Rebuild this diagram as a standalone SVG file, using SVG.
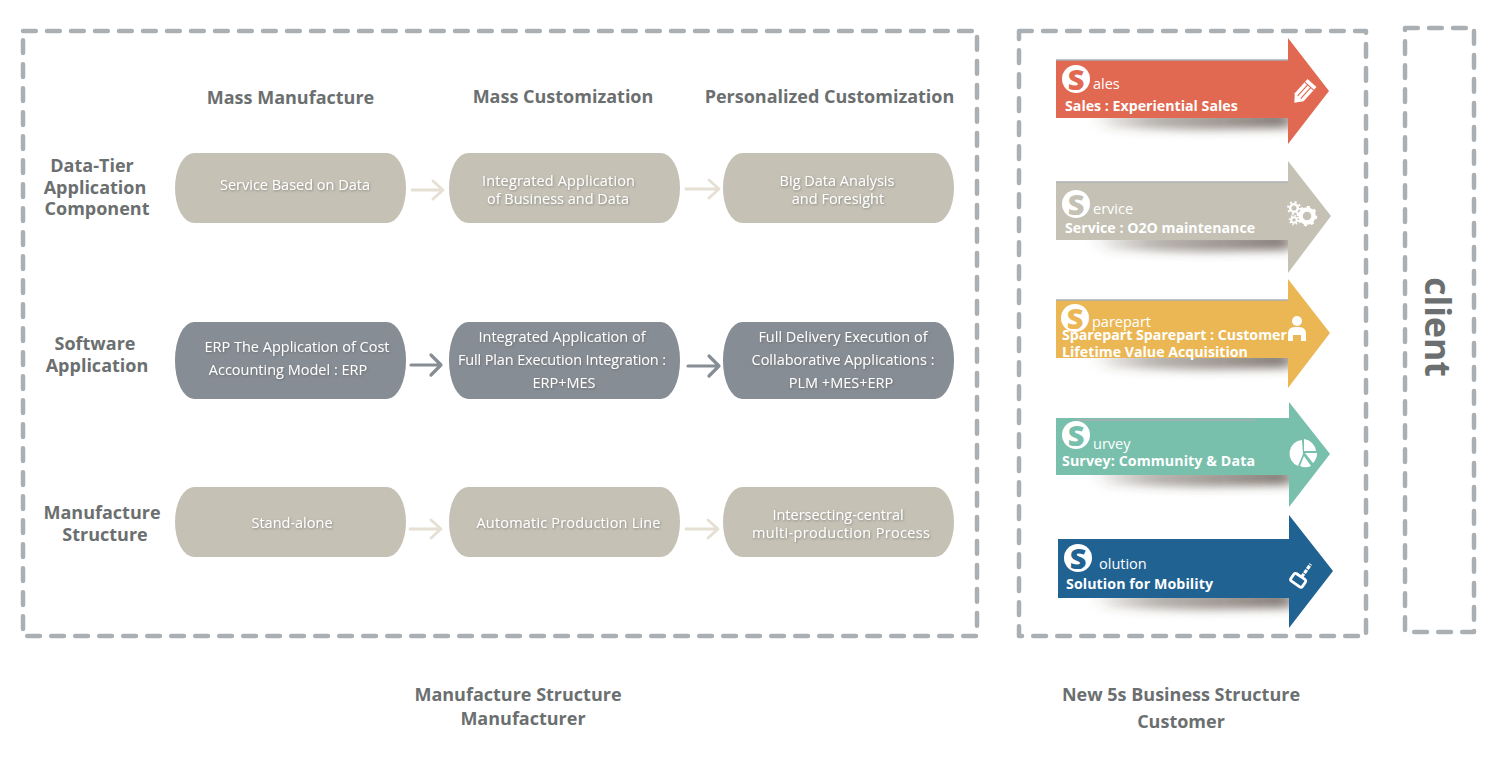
<svg xmlns="http://www.w3.org/2000/svg" width="1494" height="766" viewBox="0 0 1494 766">
<style>
text{font-family:"Open Sans","Noto Sans","Liberation Sans",sans-serif}
.frame{fill:none;stroke:#a9afb3;stroke-width:4.500;stroke-linecap:round;stroke-linejoin:round;stroke-dasharray:12.800 11.200}
.h{font-size:18px;font-weight:700;fill:#6b6f70;text-anchor:middle}
.p{font-size:14.500px;fill:#fff;text-anchor:middle;filter:url(#ts)}
.tan{fill:#c5c1b5}.slate{fill:#878d94}
.al{fill:none;stroke:#e6dfd3;stroke-width:2.800;stroke-linecap:round;stroke-linejoin:round}
.ad{fill:none;stroke:#878d94;stroke-width:3.200;stroke-linecap:round;stroke-linejoin:round}
.t1{font-size:14.500px;fill:#fff}
.t2{font-size:14.200px;font-weight:700;fill:#fff}
.s{font-size:29px;font-weight:800;text-anchor:middle}
.top{stroke:#a9afb3;stroke-width:1.500}
.ic{fill:#fff}
.ics{fill:none;stroke:#fff}
.sh{fill:url(#sg);filter:url(#bl)}
</style>
<defs>
<linearGradient id="sg" x1="0" x2="1" y1="0" y2="0"><stop offset="0" stop-color="#4a3d33" stop-opacity=".05"/><stop offset=".3" stop-color="#4a3d33" stop-opacity=".4"/><stop offset="1" stop-color="#4a3d33" stop-opacity=".7"/></linearGradient>
<filter id="ts" x="-10%" y="-30%" width="120%" height="170%"><feDropShadow dx="0.8" dy="1" stdDeviation="0.8" flood-color="#555" flood-opacity=".55"/></filter>
<filter id="bl" x="-20%" y="-100%" width="140%" height="300%"><feGaussianBlur stdDeviation="8 5"/></filter>
<clipPath id="c1"><rect x="1056" y="118" width="232" height="30"/></clipPath>
<clipPath id="c2"><rect x="1056" y="240" width="232" height="30"/></clipPath>
<clipPath id="c3"><rect x="1056" y="358" width="232" height="30"/></clipPath>
<clipPath id="c4"><rect x="1056" y="475" width="233" height="30"/></clipPath>
<clipPath id="c5"><rect x="1058" y="598" width="231" height="30"/></clipPath>
</defs>
<rect width="1494" height="766" fill="#fff"/>
<g id="frames">
<rect class="frame" x="23" y="31" width="954" height="605"/>
<rect class="frame" x="1019" y="31" width="347" height="605"/>
<rect class="frame" x="1405" y="28" width="69" height="604"/>
</g>
<g id="column-heads">
<text class="h" x="290.500" y="104">Mass Manufacture</text>
<text class="h" x="563" y="103">Mass Customization</text>
<text class="h" x="829.500" y="103">Personalized Customization</text>
</g>
<g id="row-heads">
<text class="h" x="92" y="172">Data-Tier</text>
<text class="h" x="95" y="194">Application</text>
<text class="h" x="97" y="215">Component</text>
<text class="h" x="95" y="350">Software</text>
<text class="h" x="97" y="372">Application</text>
<text class="h" x="102" y="519">Manufacture</text>
<text class="h" x="105" y="541">Structure</text>
</g>
<g id="connectors">
<path class="al" d="M412 190H443M433 181L443 190L433 199"/>
<path class="al" d="M686 189H719M709 180L719 189L709 198"/>
<path class="ad" d="M411 365H441M431 355L441 365L431 375"/>
<path class="ad" d="M688 366H719M709 356L719 366L709 376"/>
<path class="al" d="M410 529H441M431 520L441 529L431 538"/>
<path class="al" d="M686 529H718M708 520L718 529L708 538"/>
</g>
<g id="n-service-data"><rect class="tan" x="175" y="153" width="231" height="70" rx="19" ry="35"/><text class="p" x="295" y="190">Service Based on Data</text></g>
<g id="n-integrated-bd"><rect class="tan" x="449" y="153" width="231" height="70" rx="19" ry="35"/><text class="p" x="558.500" y="186" textLength="153">Integrated Application</text><text class="p" x="558" y="204" textLength="142">of Business and Data</text></g>
<g id="n-bigdata"><rect class="tan" x="723" y="153" width="231" height="70" rx="19" ry="35"/><text class="p" x="837" y="186">Big Data Analysis</text><text class="p" x="838" y="204">and Foresight</text></g>
<g id="n-erp"><rect class="slate" x="175" y="322" width="231" height="77" rx="19" ry="38"/><text class="p" x="297" y="352">ERP The Application of Cost</text><text class="p" x="288" y="375">Accounting Model : ERP</text></g>
<g id="n-mes"><rect class="slate" x="449" y="322" width="231" height="77" rx="19" ry="38"/><text class="p" x="562" y="342">Integrated Application of</text><text class="p" x="562" y="365" textLength="208">Full Plan Execution Integration :</text><text class="p" x="564" y="388">ERP+MES</text></g>
<g id="n-plm"><rect class="slate" x="723" y="322" width="231" height="77" rx="19" ry="38"/><text class="p" x="843" y="342">Full Delivery Execution of</text><text class="p" x="843" y="365">Collaborative Applications :</text><text class="p" x="841" y="388">PLM +MES+ERP</text></g>
<g id="n-standalone"><rect class="tan" x="175" y="487" width="231" height="70" rx="19" ry="35"/><text class="p" x="292" y="528">Stand-alone</text></g>
<g id="n-line"><rect class="tan" x="449" y="487" width="231" height="70" rx="19" ry="35"/><text class="p" x="568.500" y="528" textLength="184">Automatic Production Line</text></g>
<g id="n-multi"><rect class="tan" x="723" y="487" width="231" height="70" rx="19" ry="35"/><text class="p" x="838" y="520">Intersecting-central</text><text class="p" x="841" y="538" textLength="178">multi-production Process</text></g>

<g id="n-sales">
<g clip-path="url(#c1)"><path class="sh" d="M1094 112H1292V128L1200 130L1106 128Z"/></g>
<path fill="#e16851" d="M1056 60H1288V38L1329 91L1288 144V118H1056Z"/>
<path class="top" d="M1056 60H1288"/>
<circle class="ic" cx="1076" cy="79" r="14"/><text class="s" x="1076" y="89.500" fill="#e16851">S</text>
<text class="t1" x="1093" y="89">ales</text><text class="t2" x="1065" y="111">Sales : Experiential Sales</text>
<g transform="translate(1304 92) rotate(42) scale(1.200)"><path class="ic" d="M-5 -10H5V6L0 12L-5 6Z"/><path d="M-1.700 -7V6M1.700 -7V6M-5 -6.500H5" stroke="#e16851" stroke-width=".9" fill="none"/></g>
</g>

<g id="n-service">
<g clip-path="url(#c2)"><path class="sh" d="M1094 234H1292V250L1200 252L1106 250Z"/></g>
<path fill="#c5c1b5" d="M1056 182H1288V161L1331 216L1288 273V240H1056Z"/>
<path class="top" d="M1056 182H1288"/>
<circle class="ic" cx="1076" cy="204" r="14"/><text class="s" x="1076" y="214.500" fill="#c5c1b5">S</text>
<text class="t1" x="1093" y="214">ervice</text><text class="t2" x="1065" y="233">Service : O2O maintenance</text>
<g class="ics"><circle cx="1307" cy="216" r="6.500" stroke-width="4.500"/><circle cx="1307" cy="216" r="9" stroke-width="2.500" stroke-dasharray="3 4"/><circle cx="1294" cy="208" r="3.800" stroke-width="2.500"/><circle cx="1294" cy="208" r="6" stroke-width="2" stroke-dasharray="2 2.700"/><circle cx="1294" cy="220" r="2.800" stroke-width="2"/><circle cx="1294" cy="220" r="4.500" stroke-width="1.500" stroke-dasharray="1.500 2"/></g>
</g>

<g id="n-sparepart">
<g clip-path="url(#c3)"><path class="sh" d="M1094 352H1292V368L1200 370L1106 368Z"/></g>
<path fill="#ebb754" d="M1056 300H1288V279L1330 333L1288 388V358H1056Z"/>
<path class="top" d="M1056 300H1288"/>
<circle class="ic" cx="1075" cy="318" r="14"/><text class="s" x="1075" y="328.500" fill="#ebb754">S</text>
<text class="t1" x="1092" y="327">parepart</text><text class="t2" x="1062" y="340">Sparepart Sparepart : Customer</text><text class="t2" x="1062" y="356.500">Lifetime Value Acquisition</text>
<g id="ic-person"><circle class="ic" cx="1297" cy="321" r="5"/><path class="ic" d="M1288 341V334Q1288 327 1295 327H1299Q1306 327 1306 334V341H1301V335H1293V341Z"/></g>
</g>

<g id="n-survey">
<g clip-path="url(#c4)"><path class="sh" d="M1094 469H1293V485L1200 487L1106 485Z"/></g>
<path fill="#78bfac" d="M1056 418H1289V402L1330 454L1289 507V475H1056Z"/>
<path class="top" d="M1076 420H1255"/>
<circle class="ic" cx="1076" cy="435" r="14"/><text class="s" x="1076" y="445.500" fill="#78bfac">S</text>
<text class="t1" x="1093" y="449">urvey</text><text class="t2" x="1062" y="466" textLength="193">Survey: Community &amp; Data</text>
<g id="ic-pie"><path class="ic" d="M1302 440A13.500 13.500 0 0 0 1298 466L1303 454Z"/><path class="ic" d="M1304 439A13.500 13.500 0 0 1 1316 451H1304Z"/><path class="ic" d="M1305 453H1317A13.500 13.500 0 0 1 1313 463Z"/><path class="ic" d="M1304 456L1311 466A13.500 13.500 0 0 1 1300 466Z"/></g>
</g>

<g id="n-solution">
<g clip-path="url(#c5)"><path class="sh" d="M1094 592H1293V608L1200 610L1106 608Z"/></g>
<path fill="#206292" d="M1058 539H1289V515L1333 571L1289 628V598H1058Z"/>
<circle class="ic" cx="1078" cy="558" r="14"/><text class="s" x="1078" y="568.500" fill="#206292">S</text>
<text class="t1" x="1099" y="569">olution</text><text class="t2" x="1066" y="589" textLength="147">Solution for Mobility</text>
<g id="ic-brush" transform="translate(1301 578) rotate(35)"><rect x="-8" y="-1" width="14" height="9" rx="2" fill="none" stroke="#fff" stroke-width="2.800"/><path class="ics" d="M0 -1V-17" stroke-width="3.200" stroke-dasharray="4 1"/></g>
</g>

<g id="n-client"><text transform="translate(1425 327) rotate(90)" font-size="35.500" font-weight="700" fill="#6b6f70" text-anchor="middle">client</text></g>
<g id="captions">
<text class="h" x="518" y="701">Manufacture Structure</text>
<text class="h" x="523" y="725">Manufacturer</text>
<text class="h" x="1181" y="701">New 5s Business Structure</text>
<text class="h" x="1181" y="728">Customer</text>
</g>
</svg>
